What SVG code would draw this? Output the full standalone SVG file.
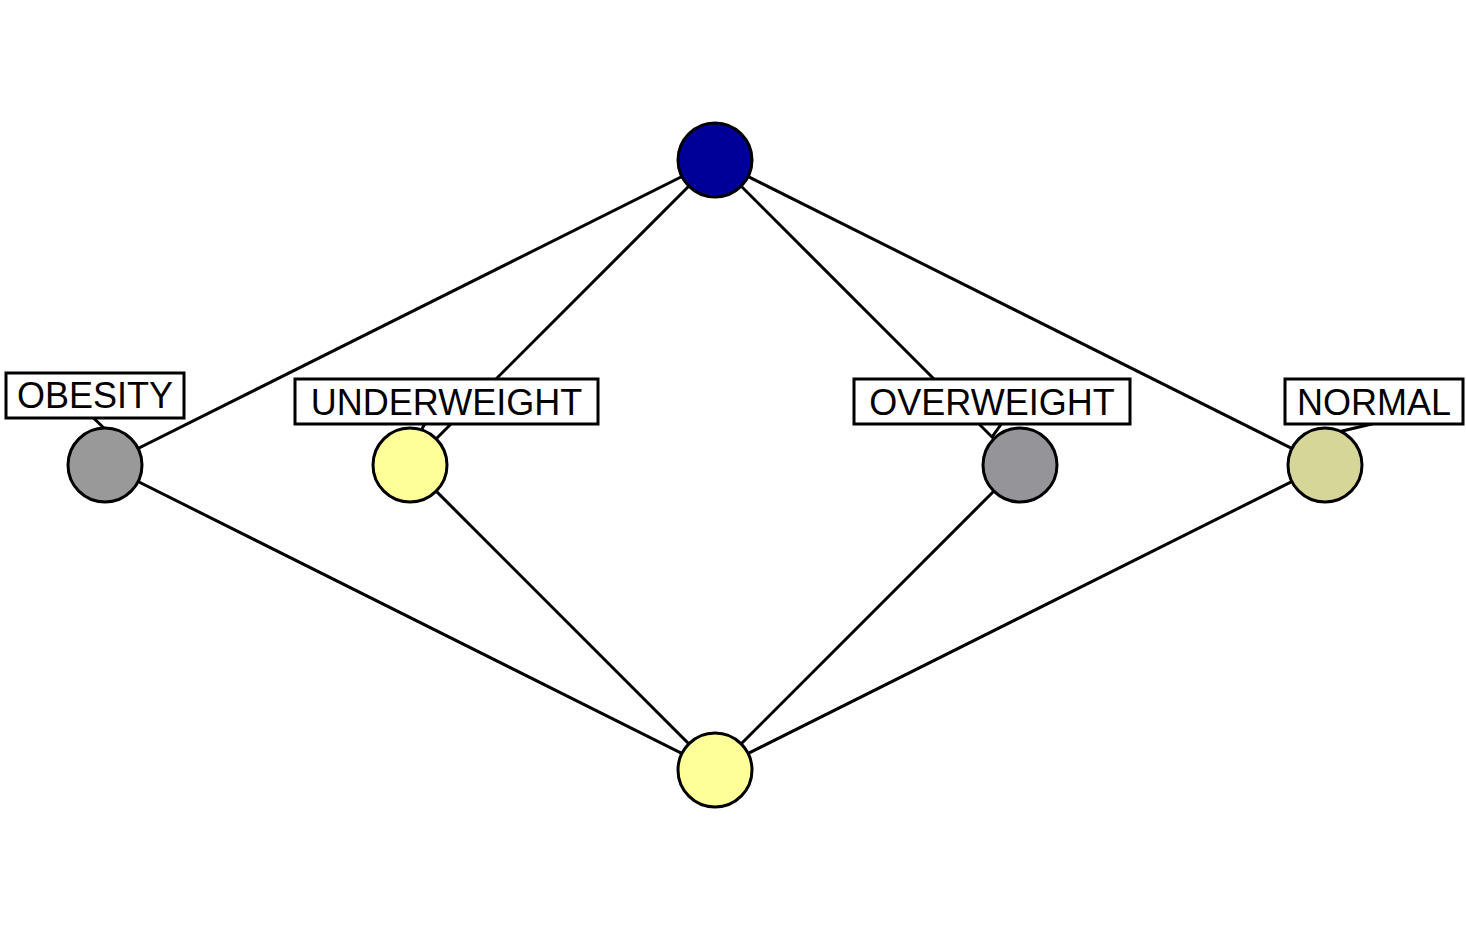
<svg xmlns="http://www.w3.org/2000/svg" width="1466" height="930" viewBox="0 0 1466 930">
<style>
.edge{stroke:#000;stroke-width:3;fill:none}
.lead{stroke:#000;stroke-width:3;fill:none}
.node{stroke:#000;stroke-width:3}
.box{fill:#fff;stroke:#000;stroke-width:3}
.lbl{font-family:"Liberation Sans",Arial,sans-serif;font-size:36px;fill:#000;text-anchor:middle}
</style>
<rect width="1466" height="930" fill="#fff"/>
<g id="connectors">
<line class="edge" x1="715" y1="160" x2="105" y2="465"/>
<line class="edge" x1="715" y1="160" x2="410" y2="465"/>
<line class="edge" x1="715" y1="160" x2="1020" y2="465"/>
<line class="edge" x1="715" y1="160" x2="1325" y2="465"/>
<line class="edge" x1="105" y1="465" x2="715" y2="770"/>
<line class="edge" x1="410" y1="465" x2="715" y2="770"/>
<line class="edge" x1="1020" y1="465" x2="715" y2="770"/>
<line class="edge" x1="1325" y1="465" x2="715" y2="770"/>
<line class="lead" x1="80" y1="405" x2="107" y2="431"/>
<line class="lead" x1="432" y1="412" x2="420" y2="432"/>
<line class="lead" x1="1017" y1="402" x2="992" y2="437"/>
<line class="lead" x1="1376" y1="423" x2="1338" y2="432"/>
</g>
<g id="top"><circle class="node" cx="715" cy="160" r="37" fill="#000099"/></g>
<g id="bottom"><circle class="node" cx="715" cy="770" r="37" fill="#FFFF99"/></g>
<g id="obesity">
<circle class="node" cx="105" cy="465" r="37" fill="#999999"/>
<rect class="box" x="6" y="373" width="178" height="45"/>
<text class="lbl" x="95" y="408">OBESITY</text>
</g>
<g id="underweight">
<circle class="node" cx="410" cy="465" r="37" fill="#FFFF99"/>
<rect class="box" x="295" y="379" width="303" height="45"/>
<text class="lbl" x="446.5" y="415">UNDERWEIGHT</text>
</g>
<g id="overweight">
<circle class="node" cx="1020" cy="465" r="37" fill="#949499"/>
<rect class="box" x="854" y="379" width="276" height="45"/>
<text class="lbl" x="992" y="415">OVERWEIGHT</text>
</g>
<g id="normal">
<circle class="node" cx="1325" cy="465" r="37" fill="#D6D699"/>
<rect class="box" x="1285" y="379" width="178" height="45"/>
<text class="lbl" x="1374" y="415">NORMAL</text>
</g>
</svg>
